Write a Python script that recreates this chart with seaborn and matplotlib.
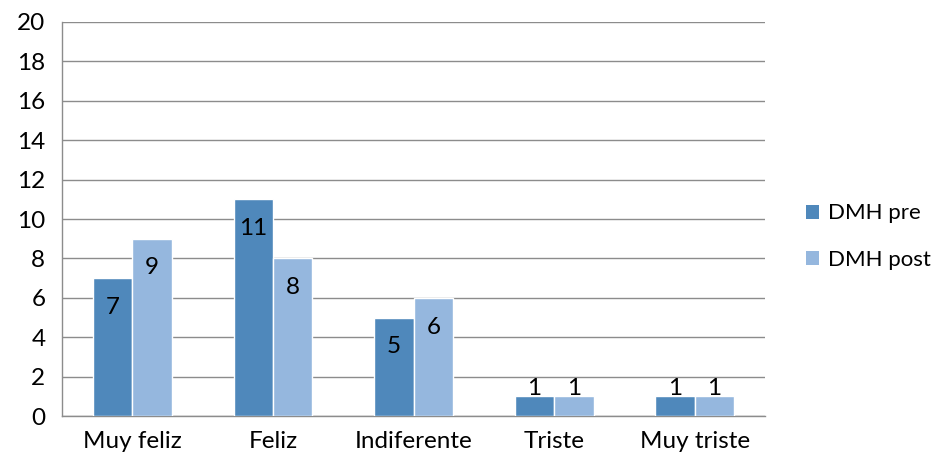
import matplotlib
matplotlib.use("Agg")
import matplotlib.pyplot as plt
import seaborn as sns
import pandas as pd
from matplotlib.patches import Patch

categories = ["Muy feliz", "Feliz", "Indiferente", "Triste", "Muy triste"]
series = ["DMH pre", "DMH post"]
pre_values = [7, 11, 5, 1, 1]
post_values = [9, 8, 6, 1, 1]
colors = ["#4F88BB", "#95B7DE"]

df = pd.DataFrame({
    "cat": categories * 2,
    "serie": [series[0]] * 5 + [series[1]] * 5,
    "val": pre_values + post_values,
})

sns.set_style("white")
plt.rcParams["font.family"] = ["Lato", "DejaVu Sans"]
plt.rcParams["text.color"] = "black"
plt.rcParams["xtick.labelcolor"] = "black"
plt.rcParams["ytick.labelcolor"] = "black"
FS = 17.5
GRID = "#8C8C8C"

fig = plt.figure(figsize=(9.4, 4.65), dpi=100)
ax = fig.add_axes([0.066, 0.105, 0.748, 0.848])

sns.barplot(data=df, x="cat", y="val", hue="serie", order=categories,
            hue_order=series, palette=colors, width=0.56, saturation=1,
            edgecolor="white", linewidth=1, legend=False, ax=ax, zorder=3)

ax.set_ylim(0, 20)
ax.set_xlim(-0.5, len(categories) - 0.5)
ax.set_yticks(range(0, 21, 2))
ax.yaxis.grid(True, color=GRID, linewidth=1)
ax.set_axisbelow(True)
ax.set_xlabel("")
ax.set_ylabel("")

for s in ["top", "right"]:
    ax.spines[s].set_visible(False)
for s in ["left", "bottom"]:
    ax.spines[s].set_color(GRID)
    ax.spines[s].set_linewidth(1)

ax.tick_params(axis="y", length=7, color=GRID, labelsize=FS, pad=5, width=1)
ax.tick_params(axis="x", which="major", length=0, labelsize=FS, pad=11)
ax.set_xticks([i - 0.5 for i in range(len(categories) + 1)], minor=True)
ax.tick_params(axis="x", which="minor", length=7, color=GRID, width=1)

# value labels
for cont in ax.containers:
    for bar in cont:
        v = bar.get_height()
        x = bar.get_x() + bar.get_width() / 2
        if v >= 2:
            ax.annotate(f"{int(v)}", (x, v), xytext=(0, -21), textcoords="offset points",
                        ha="center", va="center", fontsize=FS, zorder=5)
        else:
            ax.annotate(f"{int(v)}", (x, v), xytext=(0, -2), textcoords="offset points",
                        ha="center", va="bottom", fontsize=FS, zorder=5)

handles = [Patch(facecolor=c, edgecolor="none") for c in colors]
ax.legend(handles, series, loc="center left", bbox_to_anchor=(1.058, 0.455),
          frameon=False, fontsize=16, handlelength=0.6, handleheight=0.6,
          handletextpad=0.4, labelspacing=1.2, borderaxespad=0, borderpad=0)

fig.savefig("out.png", dpi=100)
